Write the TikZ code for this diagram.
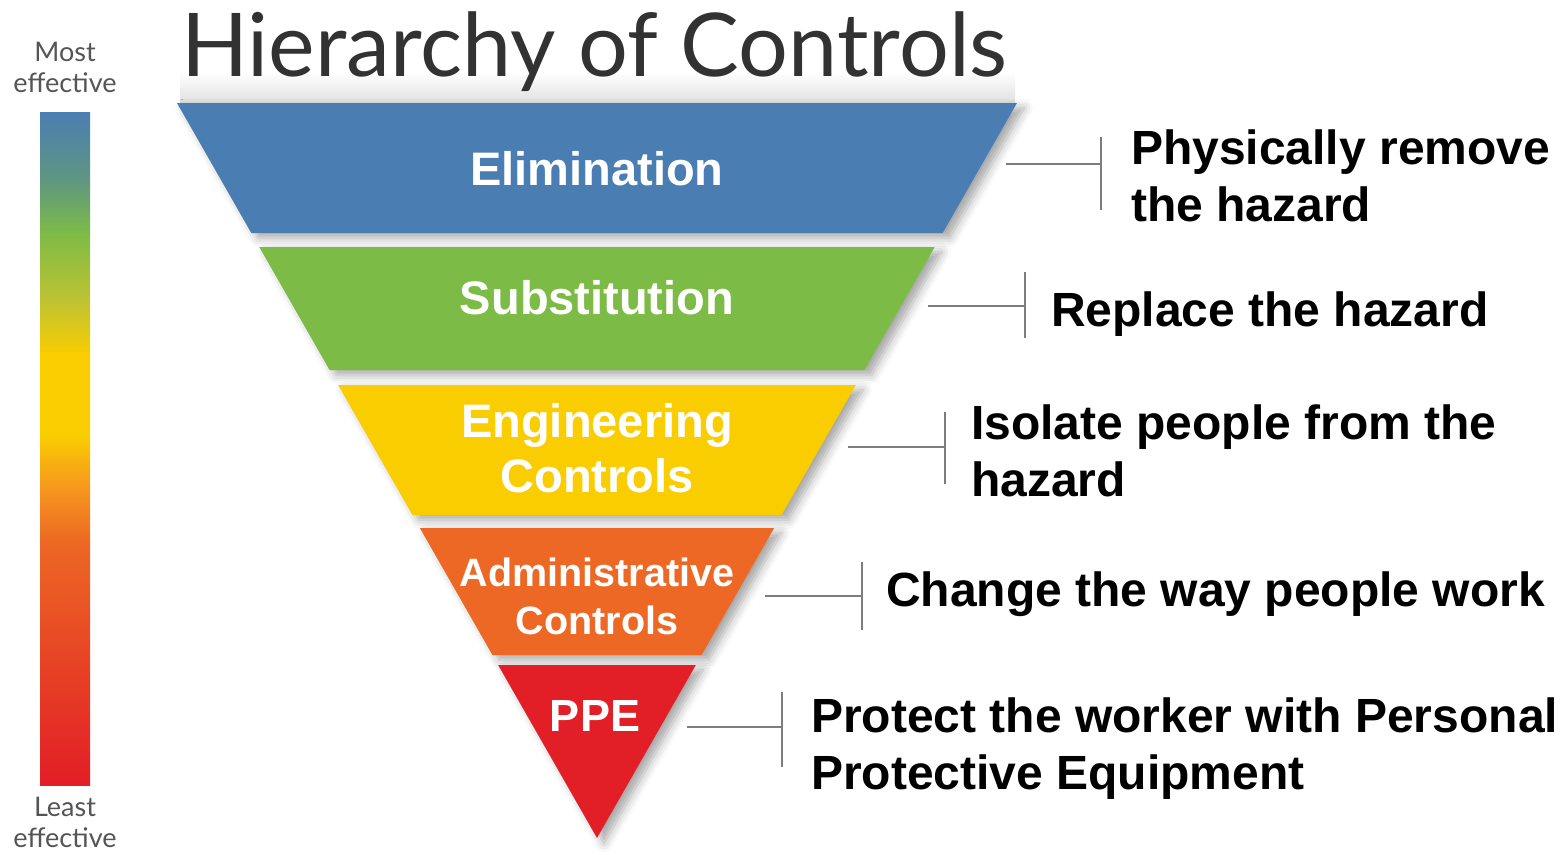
\documentclass[tikz,border=0pt]{standalone}
\usepackage{fontspec}
\setmainfont{Liberation Sans}
\newfontfamily\titlefont{Lato}
\usetikzlibrary{shadows.blur}

\definecolor{elimblue}{RGB}{74,126,178}
\definecolor{substgreen}{RGB}{125,187,71}
\definecolor{enggold}{RGB}{249,205,0}
\definecolor{adminorange}{RGB}{236,104,36}
\definecolor{ppered}{RGB}{226,30,38}
\definecolor{midorange}{RGB}{246,150,30}
\definecolor{limegreen}{RGB}{190,195,50}
\definecolor{tealgreen}{RGB}{95,150,130}
\definecolor{conngray}{RGB}{125,125,125}
\definecolor{titlegray}{RGB}{50,50,50}
\definecolor{scalegray}{RGB}{85,85,85}

% scale bar colours, path box is 25bp..75bp
\pgfdeclareverticalshading{effshade}{100bp}{color(0bp)=(ppered); color(25bp)=(ppered); color(43bp)=(adminorange); color(47bp)=(midorange); color(51bp)=(enggold); color(57bp)=(enggold); color(61bp)=(limegreen); color(66bp)=(substgreen); color(70bp)=(tealgreen); color(75bp)=(elimblue); color(100bp)=(elimblue)}

\begin{document}
\begin{tikzpicture}[x=1pt,y=-1pt]

% Define styles
\tikzstyle{band}=[blur shadow={shadow xshift=7pt, shadow yshift=-5pt, shadow blur radius=9pt, shadow opacity=35}]
\tikzstyle{bandlabel}=[text=white, font=\bfseries\fontsize{47}{55}\selectfont, align=center, inner sep=0pt]
\tikzstyle{desc}=[font=\bfseries\fontsize{48}{57}\selectfont, align=left, inner sep=0pt, anchor=north west]
\tikzstyle{bracket}=[draw=conngray, line width=2.5pt]
\tikzstyle{scalelabel}=[text=scalegray, font=\titlefont\fontsize{27}{31}\selectfont, align=center, inner sep=0pt, anchor=south]

% Parameters
\def\apexx{597}
\def\apexy{838}
\def\slope{0.5714}

\useasboundingbox (0,0) rectangle (1568,854);

% Title
\shade[top color=white, bottom color=black!12] (180,72) rectangle (1015,103);
\node[anchor=base west, inner sep=0pt, text=titlegray, font=\titlefont\fontsize{88}{96}\selectfont] (title) at (181,76) {Hierarchy of Controls};

% Bands of the triangle
\foreach \ytop/\ybot/\col in {103/233/elimblue, 247/370/substgreen, 385/515/enggold, 528/655/adminorange, 665/838/ppered} {
  \fill[band, \col] ({\apexx-\slope*(\apexy-\ytop)},\ytop) -- ({\apexx+\slope*(\apexy-\ytop)},\ytop) -- ({\apexx+\slope*(\apexy-\ybot)},\ybot) -- ({\apexx-\slope*(\apexy-\ybot)},\ybot) -- cycle;
}

% Band labels
\node[bandlabel] (elim) at (597,169) {Elimination};
\node[bandlabel] (subst) at (597,298) {Substitution};
\node[bandlabel] (eng) at (597,448) {Engineering\\Controls};
\node[bandlabel, font=\bfseries\fontsize{39.5}{48}\selectfont] (admin) at (597,596) {Administrative\\Controls};
\node[bandlabel, font=\bfseries\fontsize{45}{50}\selectfont] (ppe) at (595,716) {PPE};

% Descriptions
\node[desc] (d1) at (1131,130) {Physically remove\\the hazard};
\node[desc] (d2) at (1051,292) {Replace the hazard};
\node[desc] (d3) at (971,405) {Isolate people from the\\hazard};
\node[desc] (d4) at (886,572) {Change the way people work};
\node[desc] (d5) at (811,698) {Protect the worker with Personal\\Protective Equipment};

% Brackets
\foreach \n/\xs/\xb/\y/\ya/\yb in {1/1006/1101/164/137/210, 2/928/1025/306/272/338, 3/848/945/447/412/484, 4/765/862/596/562/630, 5/687/782/727/692/767} {
  \coordinate (s\n) at (\xs,\y);
  \coordinate (k\n) at (\xb,\y);
  \draw[bracket] (s\n) -- (k\n);
  \draw[bracket] (\xb,\ya) -- (\xb,\yb);
}

% Effectiveness scale
\shade[shading=effshade] (40,112) rectangle (90,785);
\node[scalelabel] (most) at (65,93) {Most\\effective};
\node[scalelabel] (least) at (65,848) {Least\\effective};

\end{tikzpicture}
\end{document}
